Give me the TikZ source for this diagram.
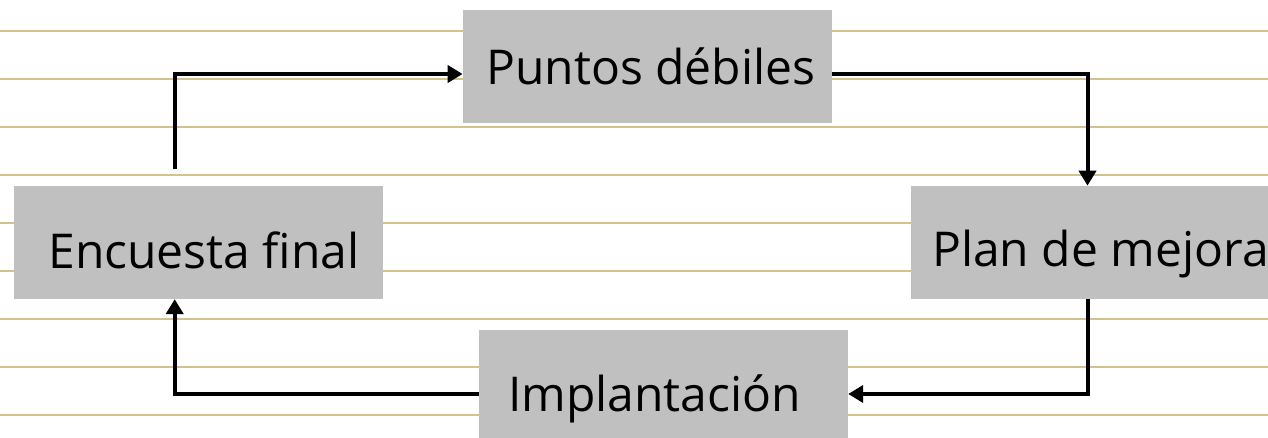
\documentclass[tikz,border=0pt]{standalone}
\usepackage{fontspec}
\setmainfont{Open Sans}
\usetikzlibrary{arrows.meta}
\definecolor{ruleline}{RGB}{212,194,142}
\definecolor{boxgray}{RGB}{192,192,192}
\tikzset{
  stagebox/.style={fill=boxgray, inner sep=0pt, minimum width=369pt, minimum height=113pt,
    text depth=0pt, font=\fontsize{48}{52}\selectfont},
  conn/.style={line width=4pt, -{Triangle[length=15pt,width=17pt]}},
  ruling/.style={draw=ruleline, line width=2pt}
}
\begin{document}
\begin{tikzpicture}[x=1pt,y=-1pt]
\useasboundingbox (0,0) rectangle (1268,438);
\clip (0,0) rectangle (1268,438);
\fill[white] (0,0) rectangle (1268,438);
\foreach \k in {0,...,8} {
  \draw[ruling] (0,{30.7+48*\k}) -- (1268,{30.7+48*\k});
}
\node[stagebox, text height=51.8pt] (enc) at (198.5,242.4) {\hspace*{11pt}Encuesta final};
\node[stagebox, text height=37.2pt] (pd) at (647.3,66.4) {\hspace*{7pt}Puntos débiles};
\node[stagebox, text height=48.6pt] (pm) at (1095.5,242.4) {\hspace*{10pt}Plan de mejora};
\node[stagebox, text height=50.4pt] (imp) at (663.5,386.5) {Implantación\hspace*{18pt}};
\coordinate (s1) at (174.7,169);
\draw[conn] (s1) |- ([yshift=-7.6pt]pd.west);
\draw[conn] ([yshift=-7.6pt]pd.east) -| ([xshift=-8pt]pm.north);
\draw[conn] ([xshift=-8pt]pm.south) |- ([yshift=-7.5pt]imp.east);
\draw[conn] ([yshift=-7.5pt]imp.west) -| (enc.south -| s1);
\end{tikzpicture}
\end{document}
